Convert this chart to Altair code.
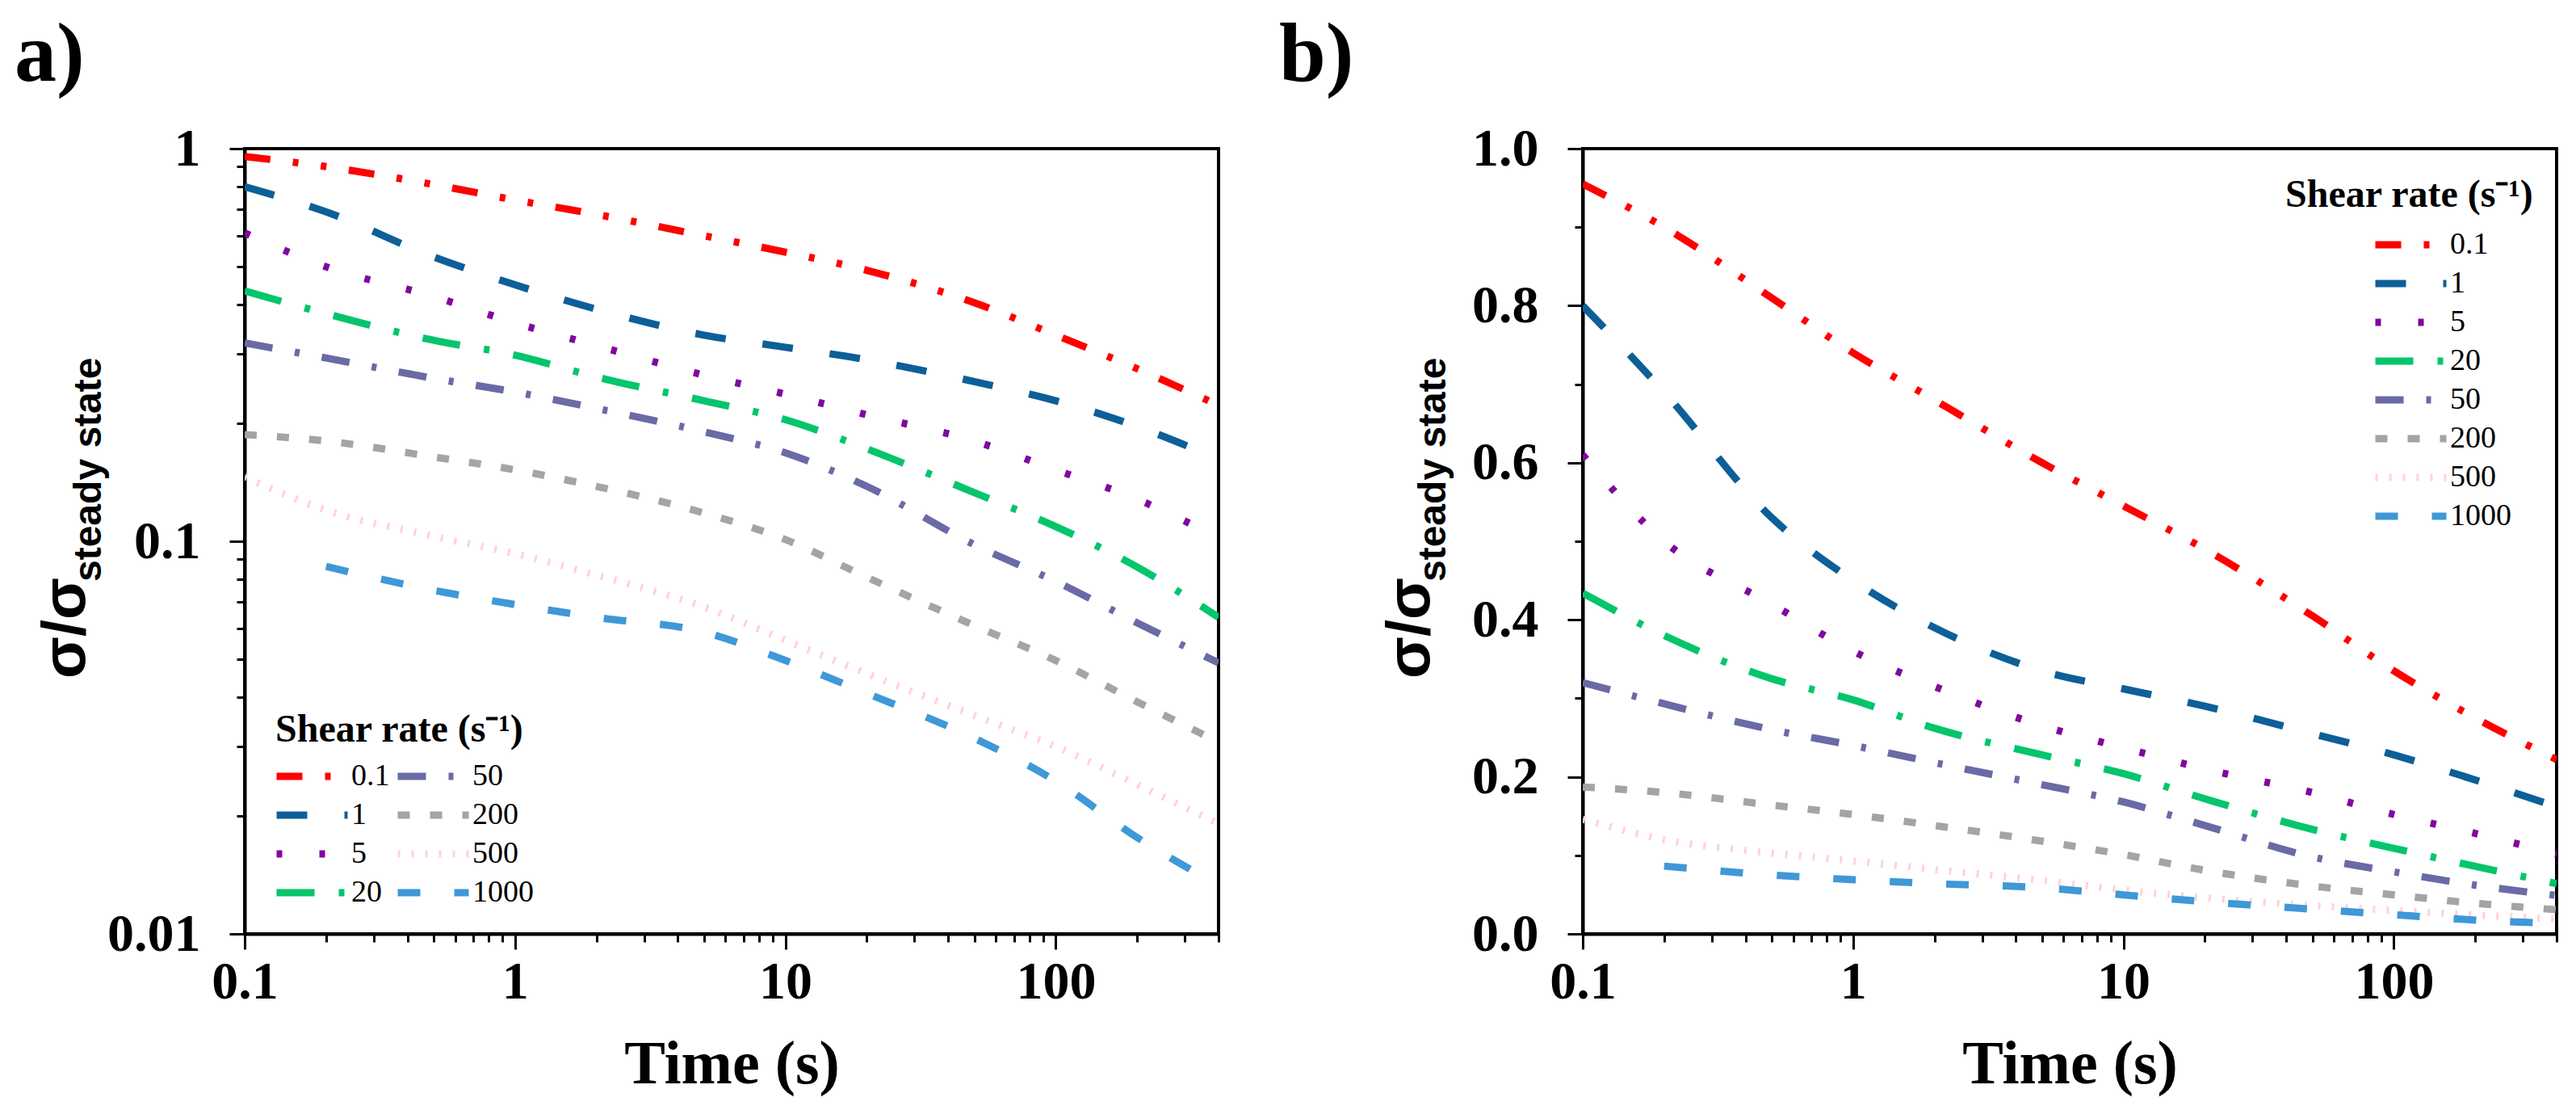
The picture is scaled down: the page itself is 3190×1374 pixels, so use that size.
import altair as alt
import pandas as pd

# ---------------- data ----------------
TIME = [0.1, 0.2, 0.5, 1, 2, 5, 10, 20, 50, 100, 200, 400]
RATES = ["0.1", "1", "5", "20", "50", "200", "500", "1000"]
S_01 = [0.955, 0.90, 0.81, 0.74, 0.68, 0.60, 0.545, 0.49, 0.405, 0.335, 0.275, 0.222]
S_1 = [0.80, 0.69, 0.53, 0.45, 0.39, 0.335, 0.312, 0.29, 0.255, 0.228, 0.196, 0.162]
S_5 = [0.61, 0.50, 0.42, 0.36, 0.315, 0.265, 0.237, 0.21, 0.18, 0.152, 0.128, 0.102]
S_20 = [0.434, 0.38, 0.325, 0.298, 0.262, 0.228, 0.204, 0.172, 0.133, 0.109, 0.086, 0.064]
S_50 = [0.32, 0.293, 0.26, 0.24, 0.218, 0.19, 0.168, 0.138, 0.098, 0.079, 0.062, 0.049]
S_200 = [0.187, 0.180, 0.164, 0.152, 0.138, 0.118, 0.101, 0.081, 0.061, 0.0497, 0.039, 0.0308]
S_500 = [0.146, 0.120, 0.103, 0.093, 0.082, 0.068, 0.056, 0.046, 0.036, 0.030, 0.024, 0.0191]
S_1000 = [None, 0.0863, 0.075, 0.069, 0.064, 0.0587, 0.0497, 0.041, 0.0315, 0.0245, 0.0176, 0.0133]
SERIES = [S_01, S_1, S_5, S_20, S_50, S_200, S_500, S_1000]

X_MAJOR = [0.1, 1, 10, 100]
X_MINOR = [0.2, 0.3, 0.4, 0.5, 0.6, 0.7, 0.8, 0.9,
           2, 3, 4, 5, 6, 7, 8, 9,
           20, 30, 40, 50, 60, 70, 80, 90,
           200, 300, 400]
Y_LOG_MAJOR = [0.01, 0.1, 1]
Y_LOG_MINOR = [0.02, 0.03, 0.04, 0.05, 0.06, 0.07, 0.08, 0.09,
               0.2, 0.3, 0.4, 0.5, 0.6, 0.7, 0.8, 0.9]
Y_LIN_MAJOR = [0.0, 0.2, 0.4, 0.6, 0.8, 1.0]
Y_LIN_MINOR = [0.1, 0.3, 0.5, 0.7, 0.9]

# ---------------- styles ----------------
COLORS = {"0.1": "#ff0000", "1": "#0d5f98", "5": "#80089f", "20": "#04c56c",
          "50": "#6a6aa6", "200": "#a4a4a4", "500": "#ffd2da", "1000": "#3f98d7"}
DASHES = {"0.1": [32, 28, 7, 28, 7, 28], "1": [38, 46], "5": [7, 46],
          "20": [47, 30, 7, 30], "50": [35, 28, 6, 28], "200": [15, 25],
          "500": [3, 14], "1000": [28, 42]}
WIDTHS = {"0.1": 9, "1": 9, "5": 9, "20": 9, "50": 9, "200": 9, "500": 3, "1000": 9}

SERIF = "Liberation Serif"
SANS = "Liberation Sans"
W, H = 1206, 972

rows = []
for rate, vals in zip(RATES, SERIES):
    for t, v in zip(TIME, vals):
        if v is not None:
            rows.append({"time": t, "ratio": v, "rate": rate})
df = pd.DataFrame(rows)


def major_axis(values, fmt, orient, padding, title=None):
    kw = dict(
        values=values, format=fmt, orient=orient,
        tickSize=19, tickWidth=3, tickColor="black",
        domainColor="black", domainWidth=4,
        labelFont=SERIF, labelFontWeight="bold", labelFontSize=66, labelColor="black",
        labelPadding=padding, labelFlush=False, labelOverlap=False, grid=False,
    )
    if title is not None:
        kw.update(title=title, titleFont=SERIF, titleFontWeight="bold",
                  titleFontSize=76, titleColor="black", titlePadding=32)
    else:
        kw.update(title=None)
    return alt.Axis(**kw)


def minor_axis(values, orient):
    return alt.Axis(values=values, orient=orient, labels=False, domain=False,
                    tickSize=10, tickWidth=3, tickColor="black", grid=False, title=None)


def text(t, x, y, size, font, angle=0, weight="bold"):
    return alt.Chart(pd.DataFrame({"t": [t]})).mark_text(
        text=t, font=font, fontSize=size, fontWeight=weight, angle=angle,
        align="left", baseline="alphabetic", color="black",
    ).encode(x=alt.value(x), y=alt.value(y))


def panel(legend, ylog, label, lab_x, yt_x, lt_x, lt_y):
    xscale = alt.Scale(type="log", domain=[0.1, 400], nice=False)
    if ylog:
        yscale = alt.Scale(type="log", domain=[0.01, 1], nice=False)
        ymaj, ymin, yfmt = Y_LOG_MAJOR, Y_LOG_MINOR, "~g"
    else:
        yscale = alt.Scale(domain=[0, 1], nice=False, zero=False)
        ymaj, ymin, yfmt = Y_LIN_MAJOR, Y_LIN_MINOR, ".1f"
    order = RATES
    lines = alt.Chart(df).mark_line(interpolate="monotone", clip=True).encode(
        x=alt.X("time:Q", scale=xscale,
                axis=major_axis(X_MAJOR, "~g", "bottom", 8, title="Time (s)")),
        y=alt.Y("ratio:Q", scale=yscale, axis=major_axis(ymaj, yfmt, "left", 36)),
        color=alt.Color("rate:N", scale=alt.Scale(domain=order, range=[COLORS[r] for r in order]),
                        legend=legend),
        strokeDash=alt.StrokeDash("rate:N", scale=alt.Scale(domain=order, range=[DASHES[r] for r in order]),
                                  legend=legend),
        strokeWidth=alt.StrokeWidth("rate:N", scale=alt.Scale(domain=order, range=[WIDTHS[r] for r in order]),
                                    legend=None),
    )
    minor = alt.Chart(df).mark_line(strokeOpacity=0).encode(
        x=alt.X("time:Q", scale=xscale, axis=minor_axis(X_MINOR, "bottom")),
        y=alt.Y("ratio:Q", scale=yscale, axis=minor_axis(ymin, "left")),
    )
    return alt.layer(
        lines,
        minor,
        text(label, lab_x, -84, 104, SERIF),
        text("σ/σ", yt_x, 656, 76, SANS, angle=270),
        text("steady state", yt_x + 20, 536, 48, SANS, angle=270),
        text("Shear rate (s⁻¹)", lt_x, lt_y, 48, SERIF),
    ).resolve_axis(x="independent", y="independent").resolve_scale(
        color="independent", strokeDash="independent"
    ).properties(width=W, height=H)


def legend(x, y, columns):
    return alt.Legend(
        title=None, orient="none", legendX=x, legendY=y, columns=columns,
        symbolType="stroke", symbolSize=7744, symbolStrokeWidth=9, clipHeight=38,
        labelFont=SERIF, labelFontSize=38, labelColor="black", labelOffset=0,
        columnPadding=5, rowPadding=10, padding=0, symbolLimit=0, labelLimit=0,
    )


pa = panel(legend(35, 758, 2), True, "a)", -285, -198, 38, 734)
pb = panel(legend(977, 100, 1), False, "b)", -376, -190, 870, 72)

chart = alt.hconcat(pa, pb, spacing=69).resolve_scale(
    color="independent", strokeDash="independent", strokeWidth="independent"
).resolve_legend(color="independent", strokeDash="independent").properties(
    padding={"left": 8, "top": 7, "right": 5, "bottom": 5}
).configure_view(stroke="black", strokeWidth=4)

chart.save("out.html", embed_options={"renderer": "svg", "actions": False})
